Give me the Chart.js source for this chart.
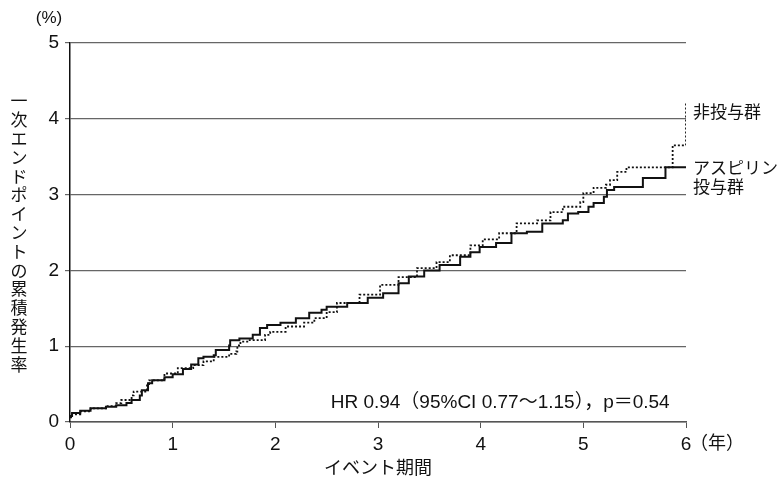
<!DOCTYPE html>
<html>
<head>
<meta charset="utf-8">
<script src="https://cdn.jsdelivr.net/npm/chart.js@4.4.0/dist/chart.umd.min.js"></script>
<style>
  html, body { margin: 0; padding: 0; background: #fff; }
  #wrap { width: 783px; height: 481px; position: relative; }
</style>
</head>
<body>
<div id="wrap"><canvas id="km"></canvas></div>
<script>
// step points (years, cumulative %)
var aspirinX = [0, 0.02, 0.1, 0.2, 0.35, 0.45, 0.55, 0.6, 0.68, 0.7, 0.76, 0.8, 0.92, 1.0, 1.1, 1.18, 1.25, 1.3, 1.4, 1.42, 1.55, 1.56, 1.65, 1.78, 1.85, 1.92, 2.05, 2.2, 2.33, 2.45, 2.5, 2.7, 2.9, 3.05, 3.2, 3.3, 3.45, 3.6, 3.8, 3.9, 3.99, 4.15, 4.3, 4.45, 4.6, 4.8, 4.85, 4.95, 5.05, 5.1, 5.2, 5.23, 5.3, 5.58, 5.8, 6.0];
var aspirinY = [0.08, 0.12, 0.15, 0.18, 0.20, 0.22, 0.25, 0.29, 0.35, 0.42, 0.51, 0.55, 0.59, 0.63, 0.70, 0.76, 0.84, 0.86, 0.88, 0.95, 1.01, 1.08, 1.10, 1.15, 1.24, 1.28, 1.31, 1.37, 1.44, 1.48, 1.52, 1.57, 1.64, 1.70, 1.83, 1.92, 2.0, 2.07, 2.18, 2.24, 2.31, 2.36, 2.49, 2.51, 2.62, 2.66, 2.75, 2.77, 2.84, 2.89, 2.97, 3.06, 3.10, 3.22, 3.36, 3.36];

var controlX = [0, 0.02, 0.1, 0.2, 0.35, 0.45, 0.5, 0.6, 0.62, 0.75, 0.77, 0.92, 1.05, 1.2, 1.3, 1.4, 1.55, 1.62, 1.63, 1.66, 1.75, 1.9, 1.95, 2.1, 2.28, 2.38, 2.5, 2.6, 2.82, 3.02, 3.2, 3.38, 3.57, 3.7, 3.9, 4.02, 4.18, 4.35, 4.55, 4.68, 4.8, 4.97, 5.0, 5.1, 5.22, 5.26, 5.33, 5.42, 5.87, 6.0];
var controlY = [0.06, 0.10, 0.14, 0.18, 0.21, 0.25, 0.29, 0.35, 0.40, 0.50, 0.55, 0.64, 0.71, 0.75, 0.80, 0.86, 0.90, 0.93, 1.01, 1.06, 1.08, 1.15, 1.19, 1.26, 1.31, 1.37, 1.45, 1.57, 1.68, 1.81, 1.91, 2.03, 2.11, 2.20, 2.33, 2.41, 2.49, 2.62, 2.66, 2.77, 2.84, 2.90, 3.02, 3.09, 3.13, 3.19, 3.30, 3.36, 3.65, 4.22];

var yTicks = [0, 1, 2, 3, 4, 5];
var xTicks = [0, 1, 2, 3, 4, 5, 6];

var yTitle = "一次エンドポイントの累積発生率";
var xTitle = "イベント期間";
var yUnit = "(%)";
var xUnit = "（年）";
var hrText = "HR 0.94（95%CI 0.77～1.15），p＝0.54";
var controlLabel = ["非投与群"];
var aspirinLabel = ["アスピリン", "投与群"];

var FONT = "'Liberation Sans', 'Noto Sans CJK JP', sans-serif";
var JFONT = "'Noto Sans CJK JP', sans-serif";

function toPoints(xs, ys) {
  return xs.map(function(x, i) { return { x: x, y: ys[i] }; });
}

// extra texts: vertical y title, units, HR note, group labels
var textPlugin = {
  id: 'texts',
  afterDraw: function(chart) {
    var ctx = chart.ctx;
    var xs = chart.scales.x, ys = chart.scales.y;
    ctx.save();
    ctx.fillStyle = '#111';
    ctx.textBaseline = 'middle';

    // vertical title, one char per row
    ctx.font = "17px " + JFONT;
    ctx.textAlign = 'center';
    var chars = Array.from(yTitle);
    for (var i = 0; i < chars.length; i++) {
      ctx.fillText(chars[i], 19, 101 + i * 18.8);
    }

    ctx.font = "17px " + FONT;
    ctx.fillText(yUnit, 49, 18);

    ctx.textAlign = 'left';
    ctx.font = "18px " + FONT;
    ctx.fillText(xUnit, xs.getPixelForValue(6) + 4, 444);

    ctx.textAlign = 'center';
    ctx.font = "18px " + JFONT;
    ctx.fillText(xTitle, xs.getPixelForValue(3), 467);

    ctx.font = "19px " + FONT;
    ctx.fillText(hrText, xs.getPixelForValue(4.19), ys.getPixelForValue(0.25));

    ctx.textAlign = 'left';
    ctx.font = "17px " + JFONT;
    var lx = chart.chartArea.right + 7;
    ctx.fillText(controlLabel[0], lx, ys.getPixelForValue(4.1));
    ctx.fillText(aspirinLabel[0], lx, ys.getPixelForValue(3.36));
    ctx.fillText(aspirinLabel[1], lx, ys.getPixelForValue(3.11));
    ctx.restore();
  }
};

new Chart('km', {
  type: 'line',
  data: {
    datasets: [
      {
        label: 'アスピリン投与群',
        data: toPoints(aspirinX, aspirinY),
        stepped: 'before',
        borderColor: '#111',
        borderWidth: 2,
        pointRadius: 0,
        fill: false
      },
      {
        label: '非投与群',
        data: toPoints(controlX, controlY),
        stepped: 'before',
        borderColor: '#111',
        borderWidth: 1.8,
        borderDash: [2, 2],
        pointRadius: 0,
        fill: false
      }
    ]
  },
  options: {
    responsive: true,
    maintainAspectRatio: false,
    animation: false,
    layout: { padding: { left: 0, right: 97, top: 43, bottom: 0 } },
    plugins: { legend: { display: false }, tooltip: { enabled: false } },
    scales: {
      x: {
        type: 'linear',
        min: 0, max: 6,
        afterFit: function(s) { s.height = 59; },
        afterBuildTicks: function(s) { s.ticks = xTicks.map(function(v) { return { value: v }; }); },
        border: { color: '#555', width: 1.5 },
        grid: { drawOnChartArea: false, drawTicks: true, tickLength: 6, color: '#555' },
        ticks: { color: '#111', font: { size: 19, family: FONT }, padding: 5, maxRotation: 0 }
      },
      y: {
        min: 0, max: 5,
        afterFit: function(s) { s.width = 70; },
        afterBuildTicks: function(s) { s.ticks = yTicks.map(function(v) { return { value: v }; }); },
        border: { color: '#111', width: 1.5 },
        grid: { color: '#666', lineWidth: 1.2, drawTicks: true, tickLength: 5 },
        ticks: { color: '#111', font: { size: 19, family: FONT }, padding: 6 }
      }
    }
  },
  plugins: [textPlugin]
});
</script>
</body>
</html>
